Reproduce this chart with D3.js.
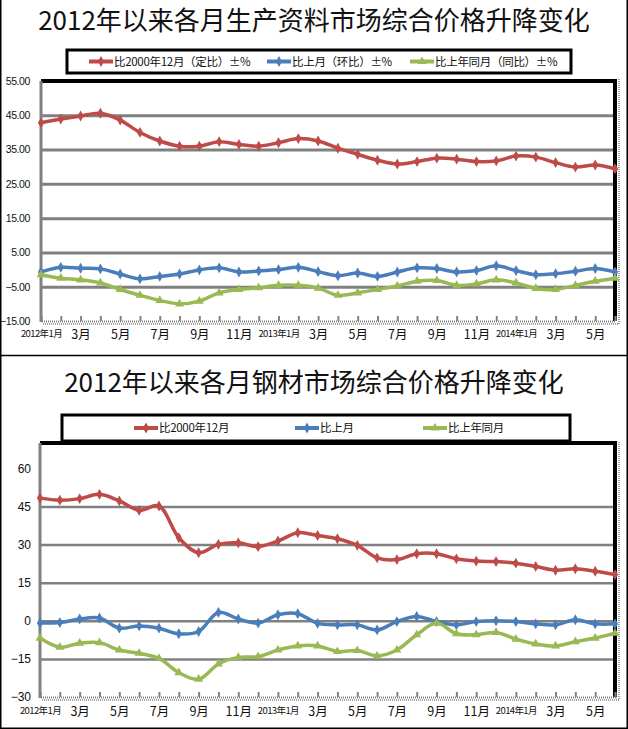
<!DOCTYPE html>
<html>
<head>
<meta charset="utf-8">
<script src="https://cdn.jsdelivr.net/npm/d3@7"></script>
<style>
body { margin: 0; background: #fff; }
svg { display: block; }
text { font-family: "Liberation Sans", Arial, "Noto Sans CJK SC", sans-serif; fill: #111; }
.title { font-family: "Noto Sans CJK SC", sans-serif; }
.cjk { font-family: "Noto Sans CJK SC", sans-serif; }
</style>
</head>
<body>
<svg id="chart" width="628" height="729"></svg>
<script>
// months 2012-01 .. 2014-06
const months = ["2012-01","2012-02","2012-03","2012-04","2012-05","2012-06","2012-07","2012-08","2012-09","2012-10","2012-11","2012-12",
                "2013-01","2013-02","2013-03","2013-04","2013-05","2013-06","2013-07","2013-08","2013-09","2013-10","2013-11","2013-12",
                "2014-01","2014-02","2014-03","2014-04","2014-05","2014-06"];
const xLabels = ["2012年1月","2月","3月","4月","5月","6月","7月","8月","9月","10月","11月","12月",
                 "2013年1月","2月","3月","4月","5月","6月","7月","8月","9月","10月","11月","12月",
                 "2014年1月","2月","3月","4月","5月","6月"];

// chart 1 : 生产资料
const title1 = "2012年以来各月生产资料市场综合价格升降变化";
const legend1 = ["比2000年12月（定比）±%", "比上月（环比）±%", "比上年同月（同比）±%"];
const prodFixed = [42.8, 43.9, 44.8, 45.6, 43.6, 40.0, 37.5, 36.0, 36.0, 37.3, 36.5, 36.0, 37.0, 38.2, 37.5,
                   35.4, 33.6, 31.9, 30.8, 31.5, 32.5, 32.2, 31.5, 31.7, 33.1, 32.8, 31.2, 29.9, 30.5, 29.4];
const prodMoM = [-0.7, 0.65, 0.4, 0.2, -1.3, -2.7, -2.0, -1.3, -0.1, 0.5, -0.7, -0.4, 0.0, 0.65, -0.6,
                 -1.8, -1.0, -2.0, -0.7, 0.5, 0.3, -0.7, -0.3, 1.1, -0.3, -1.5, -1.2, -0.5, 0.3, -0.7];
const prodYoY = [-1.5, -2.5, -3.0, -3.9, -5.8, -7.5, -9.0, -10.0, -9.2, -6.8, -5.8, -5.3, -4.6, -4.6, -5.4,
                 -7.5, -6.8, -5.8, -4.8, -3.4, -3.2, -4.6, -4.2, -3.0, -3.9, -5.5, -5.8, -4.6, -3.4, -2.5];
const yTicks1 = [-15, -5, 5, 15, 25, 35, 45, 55];

// chart 2 : 钢材
const title2 = "2012年以来各月钢材市场综合价格升降变化";
const legend2 = ["比2000年12月", "比上月", "比上年同月"];
const steelFixed = [48.3, 47.5, 48.1, 49.8, 47.2, 43.5, 45.2, 32.7, 26.8, 30.1, 30.7, 29.2, 31.4, 34.7, 33.6,
                    32.3, 29.7, 24.8, 24.1, 26.4, 26.4, 24.4, 23.5, 23.3, 22.7, 21.4, 19.9, 20.5, 19.5, 18.2];
const steelMoM = [-0.9, -0.7, 0.7, 1.1, -2.9, -2.0, -2.9, -5.1, -4.2, 3.3, 0.7, -0.9, 2.4, 2.8, -1.0,
                  -1.6, -1.6, -3.6, -0.3, 1.7, -0.3, -1.6, -0.3, 0.0, -0.3, -1.2, -1.6, 0.4, -1.2, -1.2];
const steelYoY = [-6.8, -10.4, -8.8, -8.6, -11.5, -12.8, -14.8, -20.4, -23.0, -17.0, -14.4, -14.1, -11.5, -9.9, -9.9,
                  -12.1, -11.7, -13.8, -11.5, -5.5, -0.9, -5.1, -5.5, -4.6, -7.2, -9.1, -9.9, -8.2, -6.8, -4.9];
const yTicks2 = [-30, -15, 0, 15, 30, 45, 60];

const red = "#BE4B48", blue = "#4A7EBB", green = "#98B954";

const svg = d3.select("#chart");

// outer frame + separator
svg.append("path").attr("d", "M0.75,0 V728.25 H627.25 V0")
   .attr("fill", "none").attr("stroke", "#000").attr("stroke-width", 1.5);
svg.append("line").attr("x1", 0).attr("x2", 628).attr("y1", 355.5).attr("y2", 355.5)
   .attr("stroke", "#000").attr("stroke-width", 1.5);

function drawPanel(p) {
  const g = svg.append("g");

  g.append("text").attr("class", "title")
   .attr("x", 314).attr("y", p.titleY).attr("text-anchor", "middle")
   .attr("font-size", 26).text(p.title);

  // legend
  const lg = p.legend;
  g.append("rect").attr("x", lg.x).attr("y", lg.y).attr("width", lg.w).attr("height", lg.h)
   .attr("fill", "#fff").attr("stroke", "#000").attr("stroke-width", 3);
  const cy = lg.y + lg.h / 2;
  p.series.forEach((s, i) => {
    const x0 = lg.items[i];
    g.append("line").attr("x1", x0).attr("x2", x0 + 24).attr("y1", cy).attr("y2", cy)
     .attr("stroke", s.color).attr("stroke-width", 4);
    g.append("path").attr("d", d3.symbol(s.sym, 34)())
     .attr("transform", `translate(${x0 + 12},${cy})`).attr("fill", s.color);
    g.append("text").attr("class", "cjk").attr("x", x0 + 25).attr("y", cy).attr("dy", "0.36em")
     .attr("font-size", 11.5).attr("letter-spacing", -0.3).text(p.labels[i]);
  });

  const x = d3.scalePoint().domain(months).range([p.l, p.r]);
  const y = d3.scaleLinear().domain(p.yDomain).range([p.b, p.t]);

  // gridlines
  const grid = g.append("g").attr("transform", `translate(${p.l},0)`)
    .call(d3.axisLeft(y).tickValues(p.yTicks.slice(1, -1)).tickSize(-(p.r - p.l)).tickFormat(""));
  grid.select(".domain").remove();
  grid.selectAll("line").attr("stroke", "#808080").attr("stroke-width", p.gridW);

  // y labels
  const yl = g.append("g").attr("transform", `translate(${p.yLabelX},0)`)
    .call(d3.axisLeft(y).tickValues(p.yTicks).tickSize(0).tickPadding(0).tickFormat(p.yFmt));
  yl.select(".domain").remove();
  yl.selectAll("text").attr("font-size", p.yFont).attr("letter-spacing", p.ySpacing).attr("fill", "#111");

  // plot border: black top and right, grey left
  g.append("path").attr("d", `M${p.l},${p.t} H${p.r} V${p.b}`)
   .attr("fill", "none").attr("stroke", "#000").attr("stroke-width", 4);
  g.append("line").attr("x1", p.l).attr("x2", p.l).attr("y1", p.t).attr("y2", p.b + 1)
   .attr("stroke", "#808080").attr("stroke-width", 3);

  // dotted selection edge
  g.append("path").attr("d", `M${p.l + 2},${p.b + 3} H${p.r + 4} V${p.t - 2}`)
   .attr("fill", "none").attr("stroke", "#444").attr("stroke-width", 1).attr("stroke-dasharray", "1,1");

  // x axis with upward ticks
  const xt = g.append("g").attr("transform", `translate(0,${p.b})`)
    .call(d3.axisBottom(x).tickSize(-5).tickFormat(""));
  xt.select(".domain").attr("stroke", "#808080").attr("stroke-width", 2).attr("stroke-dasharray", "1,1");
  xt.selectAll(".tick line").attr("stroke", "#808080").attr("stroke-width", 2);

  const xl = g.append("g").attr("transform", `translate(0,${p.b})`)
    .call(d3.axisBottom(x).tickValues(months.filter((m, i) => i % 2 === 0)).tickSize(0).tickPadding(p.xPad)
      .tickFormat(m => xLabels[months.indexOf(m)]));
  xl.select(".domain").remove();
  xl.selectAll("text").attr("class", "cjk").attr("fill", "#111")
    .attr("font-size", d => xLabels[months.indexOf(d)].length > 3 ? 9.5 : 12.5)
    .attr("letter-spacing", d => xLabels[months.indexOf(d)].length > 3 ? -0.6 : 0);

  // series
  const line = d3.line().x((d, i) => x(months[i])).y(d => y(d)).curve(d3.curveCatmullRom.alpha(0.5));
  p.series.forEach(s => {
    g.append("path").datum(s.values).attr("d", line)
     .attr("fill", "none").attr("stroke", s.color).attr("stroke-width", 3.5).attr("stroke-linejoin", "round");
    g.append("g").selectAll("path").data(s.values).join("path")
     .attr("d", d3.symbol(s.sym, 34)())
     .attr("transform", (d, i) => `translate(${x(months[i])},${y(d)})`)
     .attr("fill", s.color);
  });
}

drawPanel({
  title: title1, titleY: 30, labels: legend1,
  legend: { x: 67, y: 50, w: 504, h: 23, items: [89, 267, 410] },
  l: 41, r: 615, t: 81, b: 321,
  yDomain: [-15, 55], yTicks: yTicks1, yFmt: d3.format(".2f"), yLabelX: 30, yFont: 10.5, ySpacing: -0.4,
  gridW: 3, xPad: 9,
  series: [
    { values: prodFixed, color: red, sym: d3.symbolDiamond },
    { values: prodMoM, color: blue, sym: d3.symbolDiamond },
    { values: prodYoY, color: green, sym: d3.symbolTriangle }
  ]
});

drawPanel({
  title: title2, titleY: 392, labels: legend2,
  legend: { x: 62, y: 415, w: 508, h: 26, items: [134, 295, 423] },
  l: 40, r: 615, t: 443, b: 697,
  yDomain: [-30, 70], yTicks: yTicks2, yFmt: d3.format("d"), yLabelX: 31, yFont: 12, ySpacing: 0,
  gridW: 2.5, xPad: 10,
  series: [
    { values: steelFixed, color: red, sym: d3.symbolDiamond },
    { values: steelMoM, color: blue, sym: d3.symbolDiamond },
    { values: steelYoY, color: green, sym: d3.symbolTriangle }
  ]
});
</script>
</body>
</html>
